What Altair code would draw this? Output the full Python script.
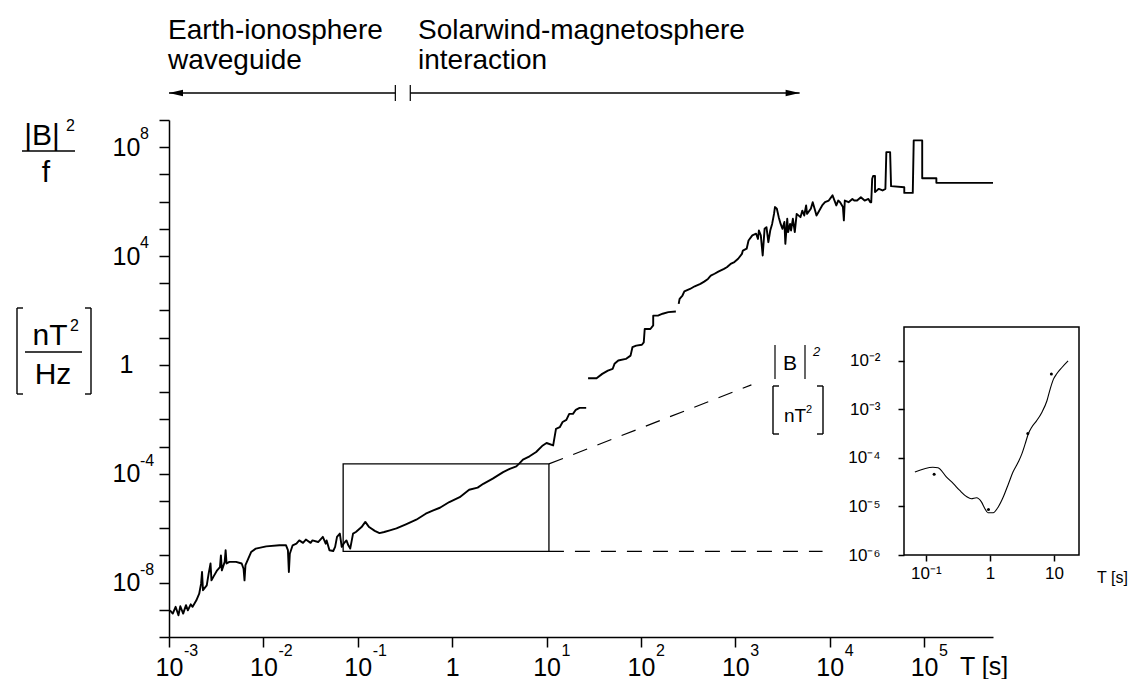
import altair as alt
import pandas as pd

# page position and size of the main plotting area (pixels)
X0, Y0 = 169, 120
W, H = 824, 517
FONT = "Liberation Sans"

# ---- main spectrum |B|^2/f [nT^2/Hz] versus period T [s], three recorded pieces
# values are log10 T and log10 |B|^2/f read on the decade grid
p1_logT = [-2.99, -2.96, -2.93, -2.90, -2.88, -2.85, -2.82, -2.80, -2.77, -2.75, -2.71, -2.68, -2.66, -2.65,
           -2.64, -2.60, -2.58, -2.56, -2.55, -2.53, -2.49, -2.46, -2.45, -2.44, -2.41, -2.40, -2.39, -2.36,
           -2.29, -2.23, -2.21, -2.20, -2.19, -2.16, -2.13, -2.08, -1.97, -1.83, -1.76, -1.74, -1.73, -1.72,
           -1.69, -1.65, -1.62, -1.58, -1.55, -1.50, -1.48, -1.42, -1.37, -1.34, -1.33, -1.30, -1.26, -1.24,
           -1.22, -1.19, -1.17, -1.15, -1.12, -1.10, -1.08, -1.05, -1.02, -0.96, -0.92, -0.88, -0.82, -0.77,
           -0.72, -0.66, -0.59, -0.49, -0.38, -0.28, -0.20, -0.13, -0.03, 0.08, 0.18, 0.27, 0.33, 0.43, 0.54,
           0.61, 0.68, 0.71, 0.75, 0.82, 0.89, 0.96, 1.00, 1.07, 1.10, 1.14, 1.17, 1.21, 1.24, 1.28, 1.31,
           1.35, 1.42]
p1_logS = [-9.02, -9.14, -8.89, -9.20, -8.87, -9.14, -8.83, -9.02, -8.80, -8.89, -8.65, -8.41, -8.04, -7.61,
           -8.28, -8.10, -7.67, -7.30, -7.92, -7.79, -7.55, -7.43, -7.00, -7.55, -7.24, -6.81, -7.30, -7.24,
           -7.24, -7.30, -7.49, -7.92, -7.36, -7.12, -6.88, -6.75, -6.67, -6.63, -6.63, -6.81, -7.61, -6.94,
           -6.63, -6.57, -6.45, -6.54, -6.42, -6.54, -6.45, -6.51, -6.32, -6.57, -6.45, -6.81, -6.84, -6.69,
           -6.32, -6.20, -6.69, -6.57, -6.45, -6.63, -6.75, -6.20, -6.14, -5.96, -5.77, -5.96, -6.10, -6.18,
           -6.14, -6.08, -6.01, -5.86, -5.69, -5.47, -5.35, -5.25, -5.04, -4.86, -4.59, -4.51, -4.37, -4.18,
           -3.94, -3.82, -3.73, -3.63, -3.48, -3.36, -3.20, -2.96, -2.87, -2.96, -2.35, -2.29, -2.10, -2.02,
           -1.80, -1.80, -1.65, -1.58, -1.58]

p2_logT = [1.44, 1.53, 1.59, 1.65, 1.70, 1.72, 1.76, 1.84, 1.89, 1.91, 1.95, 2.01, 2.03, 2.04, 2.10, 2.13,
           2.13, 2.18, 2.23, 2.29, 2.37]
p2_logS = [-0.49, -0.49, -0.33, -0.21, -0.15, 0.04, 0.16, 0.22, 0.34, 0.65, 0.71, 0.74, 0.83, 1.32, 1.32,
           1.45, 1.81, 1.81, 1.88, 1.94, 1.96]

p3_logT = [2.40, 2.41, 2.44, 2.46, 2.52, 2.57, 2.63, 2.67, 2.71, 2.74, 2.78, 2.82, 2.88, 2.91, 2.95, 2.99,
           3.03, 3.07, 3.08, 3.12, 3.14, 3.18, 3.22, 3.24, 3.25, 3.27, 3.29, 3.31, 3.33, 3.35, 3.37, 3.39,
           3.41, 3.42, 3.44, 3.46, 3.48, 3.50, 3.52, 3.53, 3.55, 3.56, 3.58, 3.59, 3.61, 3.63, 3.65, 3.69,
           3.71, 3.73, 3.75, 3.76, 3.80, 3.82, 3.84, 3.86, 3.88, 3.92, 3.95, 3.99, 4.03, 4.07, 4.09, 4.11,
           4.14, 4.15, 4.16, 4.20, 4.24, 4.26, 4.29, 4.33, 4.37, 4.41, 4.43, 4.44, 4.45, 4.46, 4.48, 4.48,
           4.52, 4.56, 4.59, 4.60, 4.64, 4.65, 4.79, 4.79, 4.88, 4.89, 4.98, 4.98, 5.13, 5.13, 5.73]
p3_logS = [2.24, 2.43, 2.55, 2.70, 2.79, 2.89, 2.98, 3.06, 3.16, 3.28, 3.35, 3.43, 3.53, 3.59, 3.71, 3.78,
           3.90, 4.08, 4.20, 4.27, 4.57, 4.76, 4.82, 4.63, 4.94, 4.76, 4.02, 5.00, 5.06, 4.51, 4.94, 5.18,
           5.55, 5.80, 5.74, 5.43, 5.18, 5.00, 5.25, 4.45, 5.37, 4.88, 5.18, 4.94, 5.37, 4.88, 5.55, 5.43,
           5.67, 5.49, 5.86, 5.55, 5.74, 5.98, 5.74, 5.49, 5.61, 5.86, 5.98, 6.04, 6.23, 5.86, 6.04, 5.98,
           5.80, 5.31, 6.04, 5.98, 6.10, 6.04, 6.04, 6.16, 6.04, 6.10, 5.98, 5.98, 6.84, 6.94, 6.94, 6.35,
           6.47, 6.41, 6.47, 7.82, 7.82, 6.57, 6.53, 6.32, 6.32, 8.25, 8.25, 6.86, 6.86, 6.69, 6.69]

# ---- inset: |B|^2 [nT^2] versus T [s]
ins_logT = [-1.17, -0.89, -0.81, -0.68, -0.57, -0.47, -0.36, -0.29, -0.21, -0.13, -0.08, -0.03, 0.05, 0.13,
            0.21, 0.29, 0.36, 0.44, 0.50, 0.55, 0.60, 0.65, 0.73, 0.81, 0.89, 0.94, 0.99, 1.04, 1.12, 1.22]
ins_logB = [-4.29, -4.19, -4.20, -4.39, -4.53, -4.67, -4.80, -4.84, -4.82, -4.91, -5.04, -5.13, -5.13, -5.01,
            -4.80, -4.53, -4.29, -4.09, -3.91, -3.71, -3.50, -3.37, -3.23, -3.06, -2.82, -2.58, -2.38, -2.27,
            -2.14, -2.00]
ins_pts_T = [0.135, 0.95, 3.9, 9.1]
ins_pts_B = [4.6e-5, 8.7e-6, 3.2e-4, 5.4e-3]

# zoomed box on the main spectrum and the guide lines towards the inset
box_T = [0.07, 10.6]
box_S = [1.4e-7, 2.3e-4]
guide_T1 = [10.6, 10.6]
guide_S1 = [2.3e-4, 1.4e-7]
guide_T2 = [1480, 8400]
guide_S2 = [0.184, 1.4e-7]

# period ranges of the two source regions
range_start = [1e-3, 0.36]
range_end = [0.25, 4800]

# tick labels: mantissa from the axis, exponent written beside it
x_exps = [-3, -2, -1, 0, 1, 2, 3, 4, 5]
y_exps = [8, 4, 0, -4, -8]
ix_exps = [-1, 0, 1]
ix_texts = ["10⁻¹", "1", "10"]
iy_exps = [-6, -5, -4, -3, -2]
iy_texts = ["10⁻⁶", "10⁻⁵", "10⁻⁴", "10⁻³", "10⁻²"]


def label_expr(exps, texts):
    e = "round(log(datum.value) / LN10)"
    out = "''"
    for k, t in zip(reversed(exps), reversed(texts)):
        out = f"{e} == {k} ? '{t}' : ({out})"
    return out


def mantissa(exps):
    return ["1" if e == 0 else "10" for e in exps]


pieces = []
for k, (lt, ls) in enumerate([(p1_logT, p1_logS), (p2_logT, p2_logS), (p3_logT, p3_logS)]):
    pieces.append(pd.DataFrame({"T": [10 ** v for v in lt], "S": [10 ** v for v in ls],
                                "piece": k, "i": list(range(len(lt)))}))
spec = pd.concat(pieces, ignore_index=True)

inset_curve = pd.DataFrame({"T": [10 ** v for v in ins_logT], "B": [10 ** v for v in ins_logB],
                            "i": list(range(len(ins_logT)))})
inset_pts = pd.DataFrame({"T": ins_pts_T, "B": ins_pts_B})

# ---- main scales and axes
xs = alt.Scale(type="log", domain=[1e-3, 10 ** 5.73])
ys = alt.Scale(type="log", domain=[1e-10, 1e9])
x_axis = alt.Axis(values=[10.0 ** e for e in x_exps], labelExpr=label_expr(x_exps, mantissa(x_exps)),
                  title=None, tickSize=10, labelPadding=8, labelFontSize=25, labelFlush=False,
                  labelOverlap=False)
y_axis = alt.Axis(values=[10.0 ** e for e in range(-10, 10)], labelExpr=label_expr(y_exps, mantissa(y_exps)),
                  title=None, tickSize=10, labelPadding=33, labelAlign="center", labelBaseline="middle",
                  labelFontSize=25, labelFlush=False, labelOverlap=False)


def MX(f):
    return alt.X(f, type="quantitative", scale=xs, axis=x_axis)


def MY(f):
    return alt.Y(f, type="quantitative", scale=ys, axis=y_axis)


curve = alt.Chart(spec).mark_line(color="black", strokeWidth=1.9, strokeJoin="round").encode(
    x=MX("T"), y=MY("S"), detail="piece:N", order="i:Q")

# exponents of the decade labels
x_pow = pd.DataFrame({"T": [10.0 ** e for e in x_exps if e != 0], "p": [str(e) for e in x_exps if e != 0]})
x_pow_text = alt.Chart(x_pow).mark_text(font=FONT, fontSize=16, align="left", baseline="alphabetic",
                                        dx=15, color="black").encode(
    x=MX("T"), y=alt.value(656 - Y0), text="p:N")
y_pow = pd.DataFrame({"S": [10.0 ** e for e in y_exps if e != 0], "p": [str(e) for e in y_exps if e != 0]})
y_pow_text = alt.Chart(y_pow).mark_text(font=FONT, fontSize=16, align="left", baseline="alphabetic",
                                        dy=-8, color="black").encode(
    x=alt.value(140 - X0), y=MY("S"), text="p:N")

box_df = pd.DataFrame({"t1": [box_T[0]], "t2": [box_T[1]], "s1": [box_S[0]], "s2": [box_S[1]]})
box = alt.Chart(box_df).mark_rect(fillOpacity=0, stroke="black", strokeWidth=1.3).encode(
    x=MX("t1"), x2="t2", y=MY("s1"), y2="s2")

guide_df = pd.DataFrame({"t1": guide_T1, "t2": guide_T2, "s1": guide_S1, "s2": guide_S2})
guides = alt.Chart(guide_df).mark_rule(color="black", strokeWidth=1.2, strokeDash=[15, 11]).encode(
    x=MX("t1"), x2="t2", y=MY("s1"), y2="s2")

ARROW_Y = 93 - Y0
rng_df = pd.DataFrame({"t1": range_start, "t2": range_end})
ranges = alt.Chart(rng_df).mark_rule(color="black", strokeWidth=1.5).encode(
    x=MX("t1"), x2="t2", y=alt.value(ARROW_Y))
sep_df = pd.DataFrame({"t": [range_end[0], range_start[1]]})
seps = alt.Chart(sep_df).mark_rule(color="black", strokeWidth=1.2).encode(
    x=MX("t"), y=alt.value(ARROW_Y - 8), y2=alt.value(ARROW_Y + 8))
head_df = pd.DataFrame({"t": [range_start[0], range_end[1]], "dir": ["left", "right"]})
heads = alt.Chart(head_df).mark_point(filled=True, color="black", opacity=1, size=196, strokeWidth=0).encode(
    x=MX("t"), y=alt.value(ARROW_Y),
    shape=alt.Shape("dir:N", legend=None,
                    scale=alt.Scale(domain=["left", "right"],
                                    range=["M0,0L2,-0.45L2,0.45Z", "M0,0L-2,-0.45L-2,0.45Z"])))

one = pd.DataFrame({"k": [0]})


def text(s, x, y, size, align="left", italic=False):
    return alt.Chart(one).mark_text(text=s, font=FONT, fontSize=size, align=align, baseline="alphabetic",
                                    color="black", fontStyle="italic" if italic else "normal").encode(
        x=alt.value(x - X0), y=alt.value(y - Y0))


def stroke(x1, y1, x2, y2, w=1.4):
    return alt.Chart(one).mark_rule(color="black", strokeWidth=w).encode(
        x=alt.value(x1 - X0), y=alt.value(y1 - Y0), x2=alt.value(x2 - X0), y2=alt.value(y2 - Y0))


def bracket(x, y1, y2, serif):
    return [stroke(x, y1, x, y2), stroke(x, y1, x + serif, y1), stroke(x, y2, x + serif, y2)]


decor = [
    # region captions
    text("Earth-ionosphere", 168, 39, 28), text("waveguide", 168, 69, 28),
    text("Solarwind-magnetosphere", 418, 39, 28), text("interaction", 418, 69, 28),
    # quantity and unit at the left
    text("|B|", 42, 145, 30, "center"), text("2", 66, 131, 16), stroke(22, 151, 75, 151),
    text("f", 46, 182, 30, "center"),
    *bracket(17, 308, 394, 6), *bracket(91, 308, 394, -6),
    text("nT", 50, 345, 30, "center"), text("2", 70, 331, 16), stroke(25, 352, 82, 352),
    text("Hz", 53, 384, 30, "center"),
    # inset quantity and unit
    stroke(775, 345, 775, 379, 1.2), stroke(805, 345, 805, 379, 1.2),
    text("B", 790, 370, 21, "center"), text("2", 813, 356, 13, italic=True),
    *bracket(773, 386, 434, 6), *bracket(823, 386, 434, -6),
    text("nT", 795, 422, 19, "center"), text("2", 806, 413, 11),
    # period labels
    text("T [s]", 960, 675, 25), text("T [s]", 1097, 583, 16),
]

main = alt.layer(curve, x_pow_text, y_pow_text, box, guides, ranges, seps, heads, *decor)

# ---- inset, drawn with its own scales inside the right part of the page
IN_L, IN_R, IN_T, IN_B = 904 - X0, 1079 - X0, 327 - Y0, 555 - Y0
ix_dom = [10 ** -1.34, 10 ** 1.39]
iy_dom = [1e-6, 10 ** -1.3]
xi = alt.Scale(type="log", domain=ix_dom, range=[IN_L, IN_R])
yi = alt.Scale(type="log", domain=iy_dom, range=[IN_B, IN_T])
xi_axis = alt.Axis(orient="bottom", offset=IN_B - H, values=[10.0 ** e for e in ix_exps],
                   labelExpr=label_expr(ix_exps, ix_texts), title=None, domain=False, tickSize=6,
                   labelPadding=4, labelFontSize=17, labelFlush=False, labelOverlap=False)
yi_axis = alt.Axis(orient="left", offset=-IN_L, values=[10.0 ** e for e in iy_exps],
                   labelExpr=label_expr(iy_exps, iy_texts), title=None, domain=False, tickSize=6,
                   labelPadding=18, labelFontSize=17, labelBaseline="middle", labelFlush=False,
                   labelOverlap=False)


def IX(f):
    return alt.X(f, type="quantitative", scale=xi, axis=xi_axis)


def IY(f):
    return alt.Y(f, type="quantitative", scale=yi, axis=yi_axis)


frame_df = pd.DataFrame({"t1": [ix_dom[0]], "t2": [ix_dom[1]], "b1": [iy_dom[0]], "b2": [iy_dom[1]]})
frame = alt.Chart(frame_df).mark_rect(fillOpacity=0, stroke="black", strokeWidth=1.5).encode(
    x=IX("t1"), x2="t2", y=IY("b1"), y2="b2")
icurve = alt.Chart(inset_curve).mark_line(color="black", strokeWidth=1.1, interpolate="monotone").encode(
    x=IX("T"), y=IY("B"), order="i:Q")
ipts = alt.Chart(inset_pts).mark_circle(color="black", size=9, opacity=1).encode(x=IX("T"), y=IY("B"))

inset = alt.layer(frame, icurve, ipts)

chart = alt.layer(main, inset).resolve_scale(x="independent", y="independent").properties(
    width=W, height=H, autosize="none",
    padding={"left": X0, "top": Y0, "right": 1136 - X0 - W, "bottom": 679 - Y0 - H},
    background="white",
).configure_view(stroke=None).configure_axis(
    grid=False, domainColor="black", domainWidth=1.5, tickColor="black", tickWidth=1.5,
    labelColor="black", labelFont=FONT,
)

chart.save("out.html", embed_options={"renderer": "svg", "actions": False})
